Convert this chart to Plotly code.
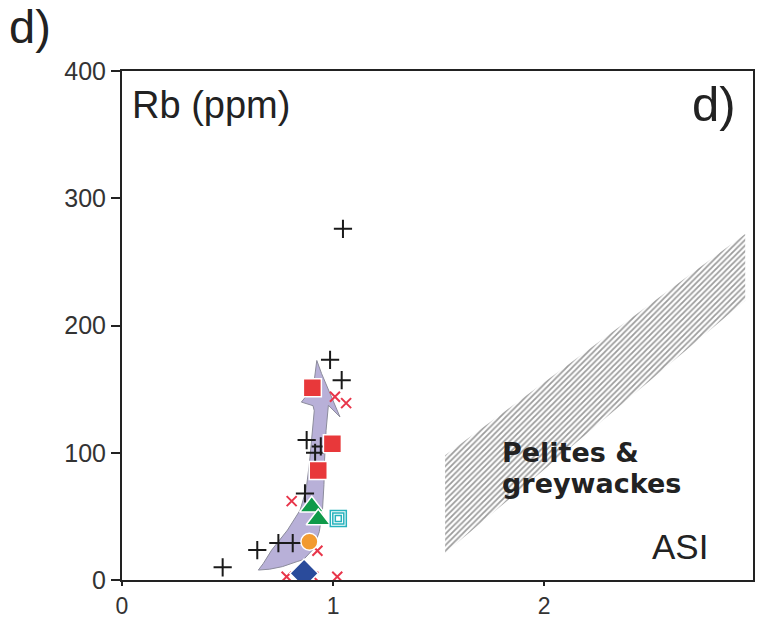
import plotly.graph_objects as go

# ---------------- data ----------------
plus_x = [1.047, 0.986, 1.041, 0.875, 0.915, 0.942, 0.867, 0.741, 0.809, 0.641, 0.477]
plus_y = [276, 173, 157, 110, 100, 105, 68, 29, 29, 23.5, 10]

xmark_x = [1.009, 1.062, 0.804, 0.926, 0.780, 0.907, 1.020]
xmark_y = [144, 139, 62, 23, 2.6, 2.6, 2.6]

sq_x = [0.902, 0.997, 0.930]
sq_y = [151, 107, 86]

tri_x = [0.899, 0.930]
tri_y = [57.5, 47.6]

circ_x = [0.888]
circ_y = [30]

dia_x = [0.863]
dia_y = [5.2]

conc_x = [1.025]
conc_y = [48.4]

# curved arrow (trend) outline
arrow_x = [0.646, 0.670, 0.709, 0.784, 0.844, 0.872, 0.888, 0.904, 0.911, 0.905, 0.850,
           0.907, 0.923, 0.946, 0.994, 1.033, 0.978, 0.967, 0.960, 0.957, 0.950, 0.935,
           0.905, 0.860, 0.830, 0.760, 0.700, 0.646]
arrow_y = [7.8, 13.1, 23.5, 39.2, 54.9, 70.6, 91.5, 117.6, 133, 137, 139.8,
           151.6, 172.5, 162.1, 143.8, 128.1, 137.3, 117.6, 95, 75, 55, 38,
           24, 16, 14.5, 10.5, 8.5, 7.8]

# pelites & greywackes field
field_x = [1.531, 2.953, 2.953, 1.531, 1.531]
field_y = [98, 272, 219.6, 21.2, 98]

x_ticks = [0, 1, 2]
y_ticks = [0, 100, 200, 300, 400]

FONT = "Liberation Sans, Arial, sans-serif"

fig = go.Figure()

fig.add_trace(go.Scatter(
    x=field_x, y=field_y, mode="lines", line=dict(width=0),
    fill="toself", fillcolor="rgba(255,255,255,0)",
    fillpattern=dict(shape="/", fgcolor="#3a3a3a", bgcolor="white", size=4, solidity=0.45),
    hoverinfo="skip", showlegend=False))

fig.add_trace(go.Scatter(
    x=arrow_x, y=arrow_y, mode="lines", line=dict(color="#8c8c9c", width=1),
    fill="toself", fillcolor="#b8b0d8", hoverinfo="skip", showlegend=False))

fig.add_trace(go.Scatter(
    x=plus_x, y=plus_y, mode="markers",
    marker=dict(symbol="cross-thin", size=13, line=dict(color="#1a1a1a", width=2)),
    showlegend=False))

fig.add_trace(go.Scatter(
    x=xmark_x, y=xmark_y, mode="markers",
    marker=dict(symbol="x-thin", size=10, line=dict(color="#e8354a", width=2)),
    showlegend=False))

fig.add_trace(go.Scatter(
    x=sq_x, y=sq_y, mode="markers",
    marker=dict(symbol="square", size=18, color="#e8383a", line=dict(color="white", width=1.5)),
    showlegend=False))

fig.add_trace(go.Scatter(
    x=tri_x, y=tri_y, mode="markers",
    marker=dict(symbol="triangle-up", size=21, color="#0f9a4a", line=dict(color="white", width=1.5)),
    showlegend=False))

fig.add_trace(go.Scatter(
    x=circ_x, y=circ_y, mode="markers",
    marker=dict(symbol="circle", size=17, color="#f29a30", line=dict(color="white", width=1.5)),
    showlegend=False))

fig.add_trace(go.Scatter(
    x=dia_x, y=dia_y, mode="markers",
    marker=dict(symbol="diamond", size=22, color="#2a4b9b", line=dict(color="white", width=1.5)),
    showlegend=False))

for s in (16, 11, 6):
    fig.add_trace(go.Scatter(
        x=conc_x, y=conc_y, mode="markers",
        marker=dict(symbol="square-open", size=s, color="#27b2bd", line=dict(width=1.5)),
        showlegend=False))

anns = [
    dict(text="Rb (ppm)", x=0.012, y=0.933, xref="paper", yref="paper", xanchor="left",
         yanchor="middle", font=dict(size=38, color="#222")),
    dict(text="d)", x=0.976, y=0.935, xref="paper", yref="paper", xanchor="right",
         yanchor="middle", font=dict(size=49, color="#222")),
    dict(text="d)", x=-0.182, y=1.087, xref="paper", yref="paper", xanchor="left",
         yanchor="middle", font=dict(size=47, color="#222")),
    dict(text="<b>Pelites &</b>", x=1.79, y=100, xref="x", yref="y", xanchor="left",
         yanchor="middle", font=dict(size=27, color="#222", family="DejaVu Sans")),
    dict(text="<b>greywackes</b>", x=1.79, y=76, xref="x", yref="y", xanchor="left",
         yanchor="middle", font=dict(size=27, color="#222", family="DejaVu Sans")),
    dict(text="ASI", x=2.645, y=26, xref="x", yref="y", xanchor="center",
         yanchor="middle", font=dict(size=35, color="#222")),
]
for a in anns:
    a["showarrow"] = False
    fig.add_annotation(**a)

fig.update_xaxes(range=[0, 2.99], tickvals=x_ticks, ticks="outside", ticklen=4,
                 tickwidth=2, tickcolor="#222", showline=True, linecolor="#222",
                 linewidth=2, mirror=True, showgrid=False, zeroline=False,
                 automargin=False,
                 tickfont=dict(size=23, color="#333", family=FONT))
fig.update_yaxes(range=[0, 400], tickvals=y_ticks, ticks="outside", ticklen=9,
                 tickwidth=2, tickcolor="#222", showline=True, linecolor="#222",
                 linewidth=2, mirror=True, showgrid=False, zeroline=False,
                 automargin=False,
                 tickfont=dict(size=25, color="#333", family=FONT))

fig.update_layout(width=767, height=617, margin=dict(l=122, r=14, t=71, b=37),
                  paper_bgcolor="white", plot_bgcolor="white",
                  font=dict(family=FONT), showlegend=False)

fig.write_html("out.html", config={"displayModeBar": False},
               post_script="document.body.style.margin='0';document.body.style.overflow='hidden';")
